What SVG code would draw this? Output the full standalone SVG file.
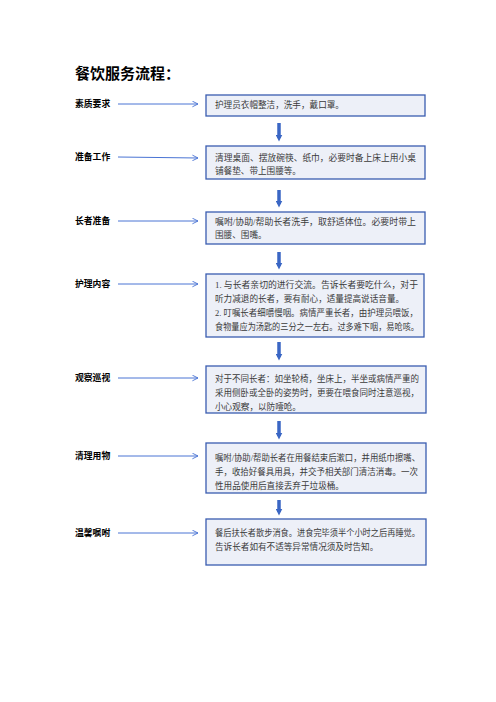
<svg xmlns="http://www.w3.org/2000/svg" width="496" height="702" viewBox="0 0 496 702">
<defs>
<style>
.title{font-family:"Liberation Sans","Noto Sans CJK SC",sans-serif;font-size:15px;font-weight:bold;fill:#000}
.lbl{font-family:"Liberation Sans","Noto Sans CJK SC",sans-serif;font-size:8.8px;font-weight:bold;fill:#000}
.box{fill:#edf0f8;stroke:#3a5cb0;stroke-width:1.3}
.txt{font-family:"Liberation Serif","Noto Sans CJK SC",serif;font-size:8.6px;fill:#3a3a3a}
.ra{stroke:#4a74d4;stroke-width:1;fill:none}
.da{stroke:#3a66c4;stroke-width:3.5;fill:none}
</style>
<marker id="chev" viewBox="0 0 10 10" refX="9" refY="5" markerWidth="7" markerHeight="7" markerUnits="userSpaceOnUse" orient="auto">
<path d="M1,1 L9,5 L1,9" fill="none" stroke="#4a74d4" stroke-width="1.3"/>
</marker>
<marker id="tri" viewBox="0 0 10 10" refX="5" refY="5" markerWidth="7" markerHeight="7" markerUnits="userSpaceOnUse" orient="auto">
<path d="M0,0 L10,5 L0,10 Z" fill="#3a66c4"/>
</marker>
</defs>
<rect width="496" height="702" fill="#fff"/>
<text class="title" x="75" y="79">餐饮服务流程：</text>

<g id="connectors">
<line class="ra" x1="118" y1="104" x2="198" y2="104" marker-end="url(#chev)"/>
<line class="ra" x1="118" y1="157" x2="198" y2="158" marker-end="url(#chev)"/>
<line class="ra" x1="118" y1="221" x2="198" y2="221" marker-end="url(#chev)"/>
<line class="ra" x1="118" y1="284" x2="198" y2="284" marker-end="url(#chev)"/>
<line class="ra" x1="118" y1="378" x2="198" y2="378" marker-end="url(#chev)"/>
<line class="ra" x1="118" y1="456" x2="198" y2="456" marker-end="url(#chev)"/>
<line class="ra" x1="118" y1="533" x2="198" y2="533" marker-end="url(#chev)"/>
<line class="da" x1="279" y1="123" x2="279" y2="138" marker-end="url(#tri)"/>
<line class="da" x1="279" y1="190" x2="279" y2="204" marker-end="url(#tri)"/>
<line class="da" x1="279" y1="252" x2="279" y2="266" marker-end="url(#tri)"/>
<line class="da" x1="279" y1="342" x2="279" y2="357" marker-end="url(#tri)"/>
<line class="da" x1="279" y1="421" x2="279" y2="436" marker-end="url(#tri)"/>
<line class="da" x1="279" y1="500" x2="279" y2="512" marker-end="url(#tri)"/>
</g>

<g id="n1">
<text class="lbl" x="75" y="107">素质要求</text>
<rect class="box" x="206" y="95" width="219" height="21"/>
<text class="txt" x="215" y="108">护理员衣帽整洁，洗手，戴口罩。</text>
</g>
<g id="n2">
<text class="lbl" x="75" y="160">准备工作</text>
<rect class="box" x="206" y="146" width="219" height="33"/>
<text class="txt" x="215" y="161" textLength="201" lengthAdjust="spacingAndGlyphs">清理桌面、摆放碗筷、纸巾，必要时备上床上用小桌</text>
<text class="txt" x="215" y="174">铺餐垫、带上围腰等。</text>
</g>
<g id="n3">
<text class="lbl" x="75" y="224">长者准备</text>
<rect class="box" x="206" y="212" width="219" height="32"/>
<text class="txt" x="215" y="225" textLength="201" lengthAdjust="spacingAndGlyphs">嘱咐/协助/帮助长者洗手，取舒适体位。必要时带上</text>
<text class="txt" x="215" y="238">围腰、围嘴。</text>
</g>
<g id="n4">
<text class="lbl" x="75" y="287">护理内容</text>
<rect class="box" x="206" y="274" width="218" height="63"/>
<text class="txt" x="215" y="288" textLength="203" lengthAdjust="spacingAndGlyphs">1. 与长者亲切的进行交流。告诉长者要吃什么，对于</text>
<text class="txt" x="215" y="302">听力减退的长者，要有耐心，适量提高说话音量。</text>
<text class="txt" x="215" y="316" textLength="203" lengthAdjust="spacingAndGlyphs">2. 叮嘱长者细嚼慢咽。病情严重长者，由护理员喂饭，</text>
<text class="txt" x="215" y="330" textLength="204" lengthAdjust="spacingAndGlyphs">食物量应为汤匙的三分之一左右。过多难下咽，易呛咳。</text>
</g>
<g id="n5">
<text class="lbl" x="75" y="381">观察巡视</text>
<rect class="box" x="206" y="366" width="220" height="47"/>
<text class="txt" x="215" y="382" textLength="204" lengthAdjust="spacingAndGlyphs">对于不同长者：如坐轮椅，坐床上，半坐或病情严重的</text>
<text class="txt" x="215" y="396" textLength="204" lengthAdjust="spacingAndGlyphs">采用侧卧或全卧的姿势时，更要在喂食同时注意巡视，</text>
<text class="txt" x="215" y="410">小心观察，以防噎呛。</text>
</g>
<g id="n6">
<text class="lbl" x="75" y="459">清理用物</text>
<rect class="box" x="206" y="443" width="220" height="50"/>
<text class="txt" x="215" y="461" textLength="205" lengthAdjust="spacingAndGlyphs">嘱咐/协助/帮助长者在用餐结束后漱口，并用纸巾擦嘴、</text>
<text class="txt" x="215" y="475" textLength="203" lengthAdjust="spacingAndGlyphs">手，收拾好餐具用具，并交予相关部门清洁消毒。一次</text>
<text class="txt" x="215" y="489">性用品使用后直接丢弃于垃圾桶。</text>
</g>
<g id="n7">
<text class="lbl" x="75" y="536">温馨嘱咐</text>
<rect class="box" x="206" y="519" width="220" height="46"/>
<text class="txt" x="215" y="536" textLength="205" lengthAdjust="spacingAndGlyphs">餐后扶长者散步消食。进食完毕须半个小时之后再睡觉。</text>
<text class="txt" x="215" y="550">告诉长者如有不适等异常情况须及时告知。</text>
</g>
</svg>
